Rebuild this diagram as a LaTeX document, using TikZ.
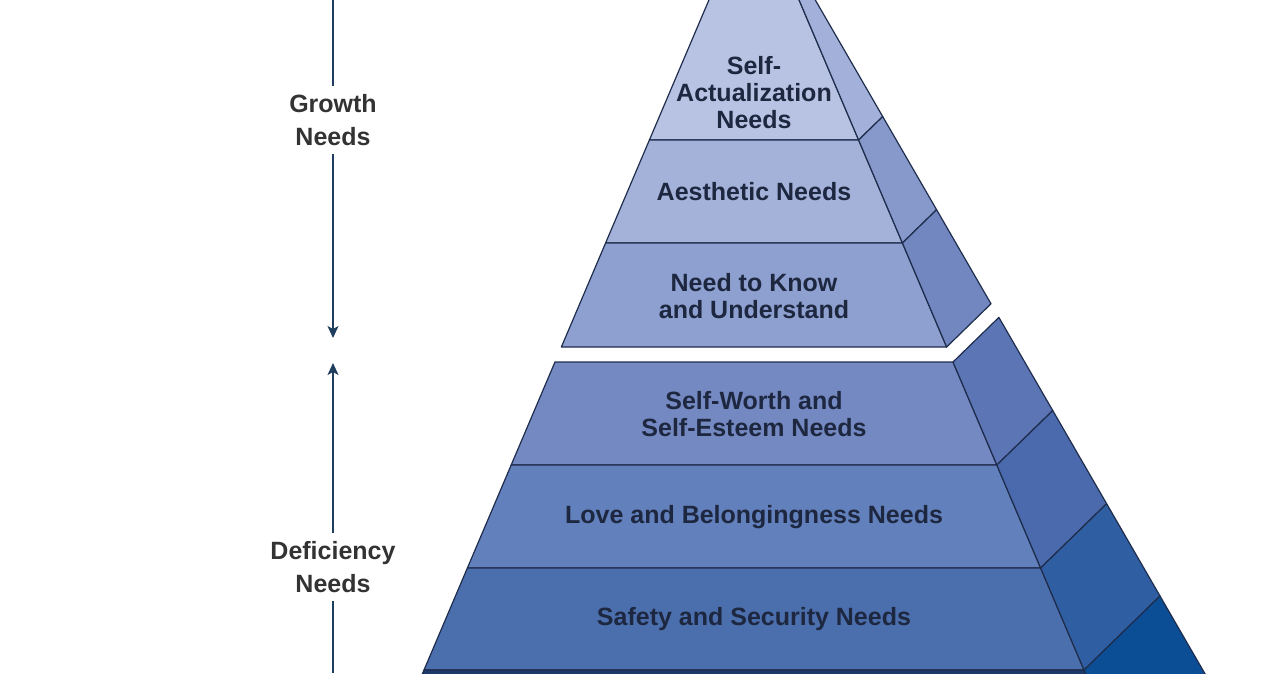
\documentclass[tikz,border=0pt]{standalone}
\usepackage{fontspec}
\setmainfont{Liberation Sans}
\usetikzlibrary{arrows.meta}

\definecolor{edge}{HTML}{1F2D4D}
\definecolor{ink}{HTML}{1E2740}
\definecolor{conncol}{HTML}{1F3D5C}
\definecolor{f1}{HTML}{B8C2E2}\definecolor{s1}{HTML}{A3B0D9}
\definecolor{f2}{HTML}{A4B2DA}\definecolor{s2}{HTML}{8798CB}
\definecolor{f3}{HTML}{8EA0CF}\definecolor{s3}{HTML}{7286C0}
\definecolor{f4}{HTML}{7489C1}\definecolor{s4}{HTML}{5B75B5}
\definecolor{f5}{HTML}{6280BB}\definecolor{s5}{HTML}{4A6AAD}
\definecolor{f6}{HTML}{4B6EAC}\definecolor{s6}{HTML}{2F5EA2}
\definecolor{f7}{HTML}{1D3A6B}\definecolor{s7}{HTML}{0C4E95}

\tikzset{
  band/.style={draw=edge, line width=1.2pt, line join=round},
  level/.style={text=ink, align=center},
  side label/.style={text=black!80, align=center, inner sep=8pt,
    font=\bfseries\fontsize{25}{33}\selectfont},
  conn/.style={conncol, line width=1.3pt},
  tip/.style={-{Stealth[length=12pt, width=11pt, inset=3pt]}}
}

\begin{document}
\begin{tikzpicture}[x=1pt, y=-1pt, font=\bfseries\fontsize{25}{27}\selectfont]
  \useasboundingbox (0,0) rectangle (1280,673);
  % pyramid: apex at (754,-106), front and right side faces
  \begin{scope}
    \clip (0,0) rectangle (1280,673);
    \foreach \ya/\yb/\cf/\cs in {-106/140/f1/s1, 140/243/f2/s2, 243/347/f3/s3,
        362/465/f4/s4, 465/568/f5/s5, 568/670/f6/s6, 670/800/f7/s7} {
      \pgfmathsetmacro\sa{(\ya+106)/776}
      \pgfmathsetmacro\sb{(\yb+106)/776}
      \filldraw[band, fill=\cf] ({754-330*\sa},\ya) -- ({754+330*\sa},\ya)
        -- ({754+330*\sb},\yb) -- ({754-330*\sb},\yb) -- cycle;
      \filldraw[band, fill=\cs] ({754+330*\sa},\ya) -- ({754+406*\sa},{-106+702*\sa})
        -- ({754+406*\sb},{-106+702*\sb}) -- ({754+330*\sb},\yb) -- cycle;
    }
  \end{scope}

  \node[level] (selfact) at (754,93) {Self-\\Actualization\\Needs};
  \node[level] (aesthetic) at (754,192) {Aesthetic Needs};
  \node[level] (know) at (754,296) {Need to Know\\and Understand};
  \node[level] (esteem) at (754,414) {Self-Worth and\\Self-Esteem Needs};
  \node[level] (love) at (754,517) {Love and Belongingness Needs};
  \node[level] (safety) at (754,619) {Safety and Security Needs};

  % growth / deficiency arrows
  \coordinate (gtop) at (333,0);
  \node[side label] (growth) at (333,120) {Growth\\Needs};
  \coordinate (gtip) at (333,338);
  \coordinate (dtip) at (333,363);
  \node[side label] (deficiency) at (333,567) {Deficiency\\Needs};
  \coordinate (dbot) at (333,673);
  \draw[conn] (gtop) -- (growth);
  \draw[conn, tip] (growth) -- (gtip);
  \draw[conn, tip] (deficiency) -- (dtip);
  \draw[conn] (deficiency) -- (dbot);
\end{tikzpicture}
\end{document}
